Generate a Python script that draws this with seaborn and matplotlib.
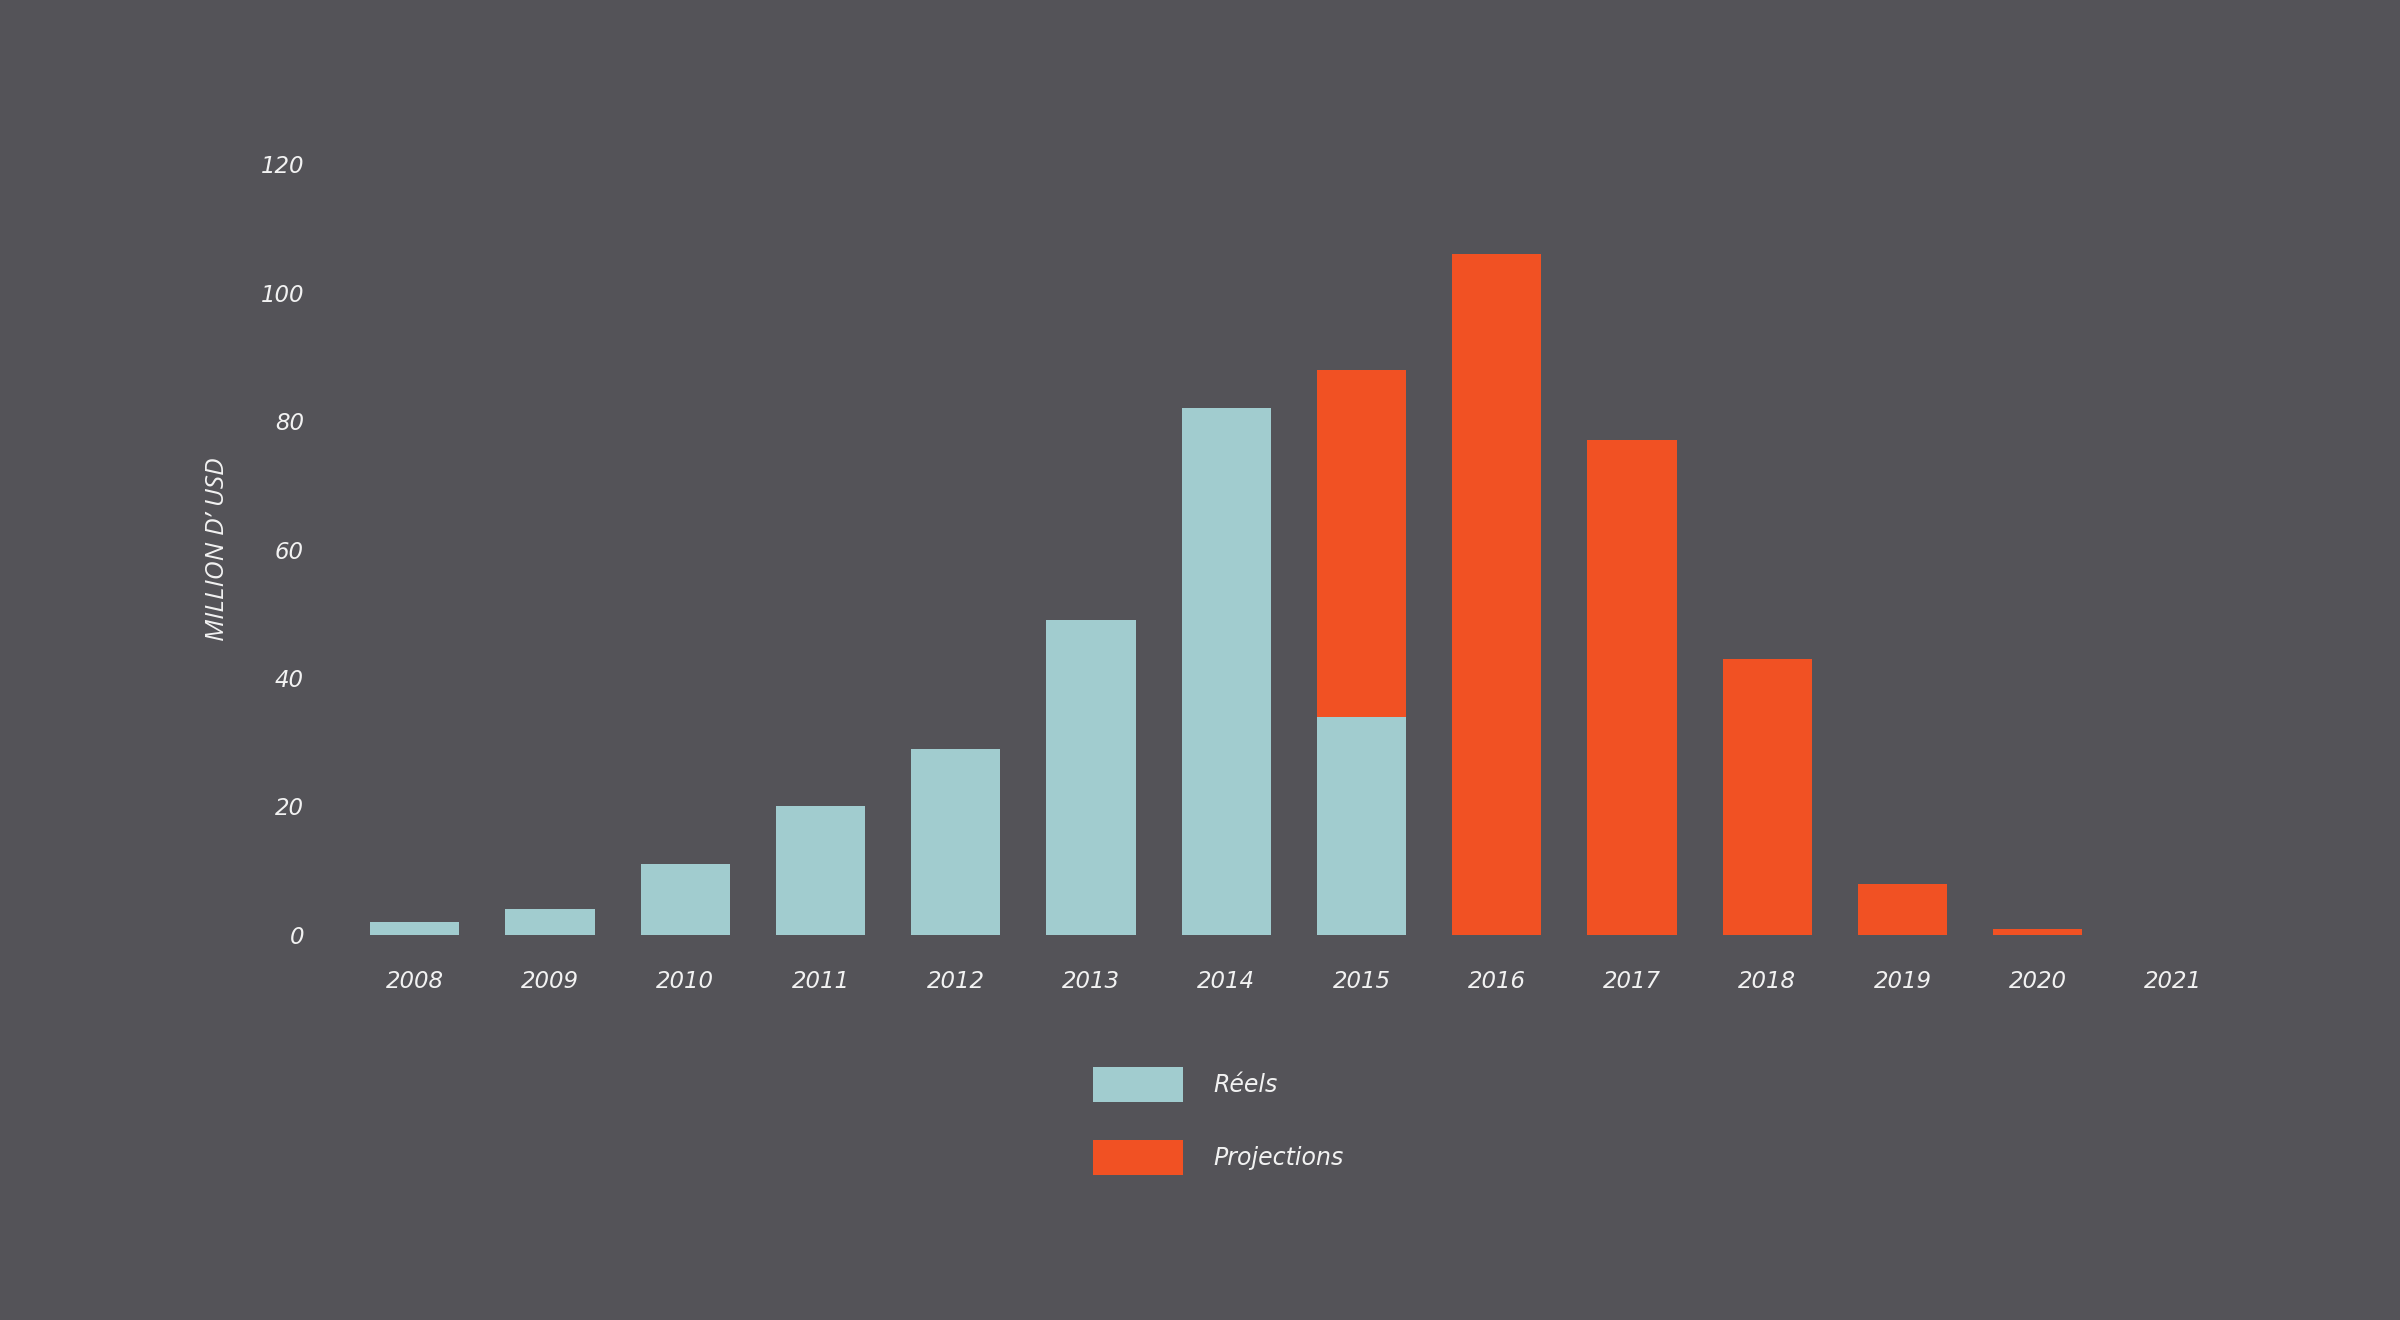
import numpy as np
import pandas as pd
import seaborn as sns
import matplotlib.pyplot as plt
from matplotlib.patches import Patch

# values (million USD)
years = ["2008", "2009", "2010", "2011", "2012", "2013", "2014",
         "2015", "2016", "2017", "2018", "2019", "2020", "2021"]
reels = [2, 4, 11, 20, 29, 49, 82, 34, 0, 0, 0, 0, 0, 0]
projections = [0, 0, 0, 0, 0, 0, 0, 54, 106, 77, 43, 8, 1, 0]
yticks = [0, 20, 40, 60, 80, 100, 120]

bg = "#545358"
teal = "#a1cccf"
orange = "#f15123"
txt = "#f2f2f2"

sns.set_theme(style="white")
plt.rcParams["font.family"] = ["DejaVu Sans"]

df = pd.DataFrame({"year": years, "reels": reels, "proj": projections})
df["total"] = df["reels"] + df["proj"]

fig = plt.figure(figsize=(24, 13.2), dpi=100, facecolor=bg)
ax = fig.add_axes([0.1446, 0.2917, 0.789, 0.584])
ax.set_facecolor(bg)

# stacked: draw totals in orange, then actuals on top in teal
sns.barplot(data=df, x="year", y="total", order=years, color=orange,
            saturation=1, width=0.66, linewidth=0, ax=ax)
sns.barplot(data=df, x="year", y="reels", order=years, color=teal,
            saturation=1, width=0.66, linewidth=0, ax=ax)

ax.set_ylim(0, 120)
ax.set_xlim(-0.5, len(years) - 0.5)
ax.set_yticks(yticks)
ax.set_yticklabels([str(t) for t in yticks])
ax.tick_params(axis="both", length=0, colors=txt, labelsize=16.5)
ax.tick_params(axis="y", pad=31)
ax.tick_params(axis="x", pad=25)
for lab in ax.get_xticklabels() + ax.get_yticklabels():
    lab.set_fontstyle("italic")

ax.set_xlabel("")
ax.set_ylabel("MILLION D\u2019 USD", color=txt, fontsize=19, fontstyle="italic",
              family=["Open Sans"], labelpad=22)
sns.despine(ax=ax, left=True, bottom=True)
ax.grid(False)

handles = [Patch(facecolor=teal, edgecolor="none", label="Réels"),
           Patch(facecolor=orange, edgecolor="none", label="Projections")]
leg = fig.legend(handles=handles, loc="upper left", bbox_to_anchor=(0.4554, 0.1917),
                 frameon=False, fontsize=17, handlelength=3.8, handleheight=1.9,
                 handletextpad=1.3, labelspacing=1.6, borderpad=0, borderaxespad=0)
for t in leg.get_texts():
    t.set_color(txt)
    t.set_fontstyle("italic")

fig.savefig("out.png", dpi=100, facecolor=bg)
